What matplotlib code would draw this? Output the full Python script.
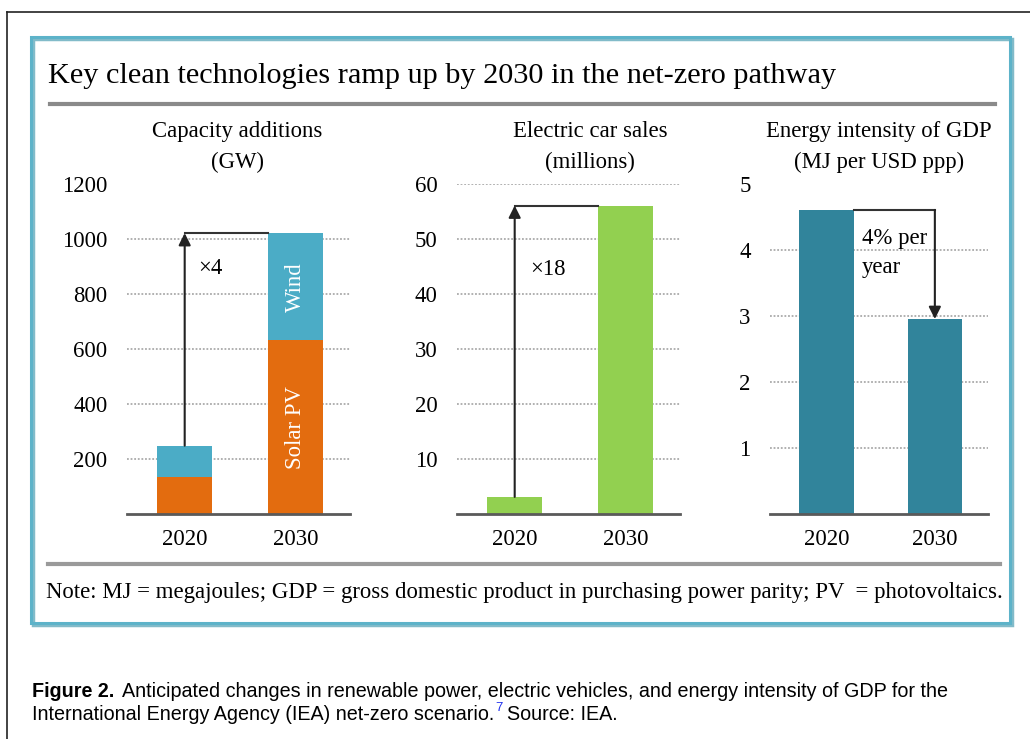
import matplotlib
matplotlib.use("Agg")
import matplotlib.pyplot as plt
from matplotlib.patches import Rectangle
from matplotlib.lines import Line2D

# data
years = ["2020", "2030"]
solar_gw = [134, 630]
wind_gw = [114, 390]
ev_sales = [3.1, 56]
energy_intensity = [4.6, 2.95]

cap_ticks = [200, 400, 600, 800, 1000, 1200]
ev_ticks = [10, 20, 30, 40, 50, 60]
ei_ticks = [1, 2, 3, 4, 5]

ORANGE = "#E36C0F"
WIND = "#4BACC6"
GREEN = "#92D050"
TEAL = "#31849B"

W, H = 1030, 739
SERIF = "Liberation Serif"
SANS = "Liberation Sans"
FS = 16.4
CAP_FS = 14.2

fig = plt.figure(figsize=(W / 100, H / 100), dpi=100)


def fx(x):
    return x / W


def fy(y):
    return 1 - y / H


def add_panel(x0, x1, y0=183.5, y1=514):
    return fig.add_axes([fx(x0), fy(y1), fx(x1 - x0), (y1 - y0) / H])


def style(ax, ticks, ymax):
    ax.set_xlim(-0.52, 1.49)
    ax.set_ylim(0, ymax)
    ax.set_yticks(ticks)
    ax.set_xticks([0, 1], years)
    for s in ["top", "right", "left"]:
        ax.spines[s].set_visible(False)
    ax.spines["bottom"].set_color("#5a5a5a")
    ax.spines["bottom"].set_linewidth(2)
    ax.tick_params(axis="y", length=0, pad=14, labelsize=FS)
    ax.tick_params(axis="x", length=0, pad=11, labelsize=FS)
    for lab in ax.get_xticklabels() + ax.get_yticklabels():
        lab.set_fontfamily(SERIF)
    ax.grid(axis="y", linestyle=(0, (1, 1)), color="#aaaaaa", lw=1.3)
    ax.set_axisbelow(True)


# outer frame (only left and top visible in the crop)
fig.add_artist(Line2D([fx(7), fx(7)], [0, fy(12)], color="#222222", lw=1.2))
fig.add_artist(Line2D([fx(7), 1], [fy(12), fy(12)], color="#222222", lw=1.2))

# inner box with light shadow
fig.add_artist(Rectangle((fx(33), fy(625)), fx(1012 - 33), (625 - 39) / H,
                         fill=False, ec="#2f8fa6", lw=2.5, alpha=0.6))
fig.add_artist(Rectangle((fx(31), fy(623)), fx(1010 - 31), (623 - 37) / H,
                         fill=False, ec="#5db3c9", lw=2.2))

fig.text(fx(48), fy(83), "Key clean technologies ramp up by 2030 in the net-zero pathway",
         fontsize=21.8, family=SERIF, ha="left", va="baseline")
fig.add_artist(Line2D([fx(50), fx(995)], [fy(104), fy(104)], color="#8a8a8a", lw=3))
fig.add_artist(Line2D([fx(48), fx(1000)], [fy(564), fy(564)], color="#9a9a9a", lw=3))

# panel 1: capacity additions
ax1 = add_panel(127, 350)
ax1.bar([0, 1], solar_gw, width=0.5, color=ORANGE)
ax1.bar([0, 1], wind_gw, width=0.5, bottom=solar_gw, color=WIND)
style(ax1, cap_ticks, 1200)
tot = [s + w for s, w in zip(solar_gw, wind_gw)]
ax1.plot([0, 0.75], [tot[1], tot[1]], color="#333333", lw=1.5)
ax1.annotate("", xy=(0, tot[1]), xytext=(0, tot[0]),
             arrowprops=dict(arrowstyle="-|>", color="#222222", lw=1.5, mutation_scale=18,
                             shrinkA=0, shrinkB=0))
ax1.text(0.12, 890, "×4", fontsize=FS, family=SERIF, va="center", ha="left")
ax1.text(1, tot[1] - wind_gw[1] / 2, "Wind", color="white", rotation=90,
         fontsize=FS, family=SERIF, ha="center", va="center")
ax1.text(1, solar_gw[1] / 2, "Solar PV", color="white", rotation=90,
         fontsize=FS, family=SERIF, ha="center", va="center")

# panel 2: electric car sales
ax2 = add_panel(457, 680)
ax2.bar([0, 1], ev_sales, width=0.5, color=GREEN)
style(ax2, ev_ticks, 60)
ax2.plot([0, 0.75], [ev_sales[1], ev_sales[1]], color="#333333", lw=1.5)
ax2.annotate("", xy=(0, ev_sales[1]), xytext=(0, ev_sales[0]),
             arrowprops=dict(arrowstyle="-|>", color="#222222", lw=1.5, mutation_scale=18,
                             shrinkA=0, shrinkB=0))
ax2.text(0.14, 44.3, "×18", fontsize=FS, family=SERIF, va="center", ha="left")

# panel 3: energy intensity
ax3 = add_panel(770, 988)
ax3.bar([0, 1], energy_intensity, width=0.5, color=TEAL)
style(ax3, ei_ticks, 5)
ax3.plot([0.25, 1], [energy_intensity[0], energy_intensity[0]], color="#333333", lw=1.5)
ax3.annotate("", xy=(1, energy_intensity[1]), xytext=(1, energy_intensity[0]),
             arrowprops=dict(arrowstyle="-|>", color="#222222", lw=1.5, mutation_scale=18,
                             shrinkA=0, shrinkB=0))
ax3.text(0.33, 4.09, "4% per", fontsize=FS, family=SERIF, va="baseline", ha="left")
ax3.text(0.33, 3.64, "year", fontsize=FS, family=SERIF, va="baseline", ha="left")

# panel subtitles
for cx, l1, l2 in [(237, "Capacity additions", "(GW)"),
                   (590, "Electric car sales", "(millions)"),
                   (879, "Energy intensity of GDP", "(MJ per USD ppp)")]:
    fig.text(fx(cx), fy(137), l1, fontsize=FS, family=SERIF, ha="center", va="baseline")
    fig.text(fx(cx), fy(168), l2, fontsize=FS, family=SERIF, ha="center", va="baseline")

fig.text(fx(46), fy(598),
         "Note: MJ = megajoules; GDP = gross domestic product in purchasing power parity; PV  = photovoltaics.",
         fontsize=FS, family=SERIF, ha="left", va="baseline")

# caption
renderer = fig.canvas.get_renderer()
t1 = fig.text(fx(32), fy(697), "Figure 2.", fontsize=CAP_FS, family=SANS, weight="bold",
              ha="left", va="baseline")
bb = t1.get_window_extent(renderer)
fig.text(bb.x1 / W + fx(8), fy(697),
         "Anticipated changes in renewable power, electric vehicles, and energy intensity of GDP for the",
         fontsize=CAP_FS, family=SANS, ha="left", va="baseline")
t2 = fig.text(fx(32), fy(720), "International Energy Agency (IEA) net-zero scenario.",
              fontsize=CAP_FS, family=SANS, ha="left", va="baseline")
bb = t2.get_window_extent(renderer)
t3 = fig.text(bb.x1 / W + fx(1), fy(711), "7", fontsize=9.5, family=SANS, color="#2233ee",
              ha="left", va="baseline")
bb = t3.get_window_extent(renderer)
fig.text(bb.x1 / W + fx(4), fy(720), "Source: IEA.", fontsize=CAP_FS, family=SANS,
         ha="left", va="baseline")

fig.savefig("out.png", dpi=100, facecolor="white")
